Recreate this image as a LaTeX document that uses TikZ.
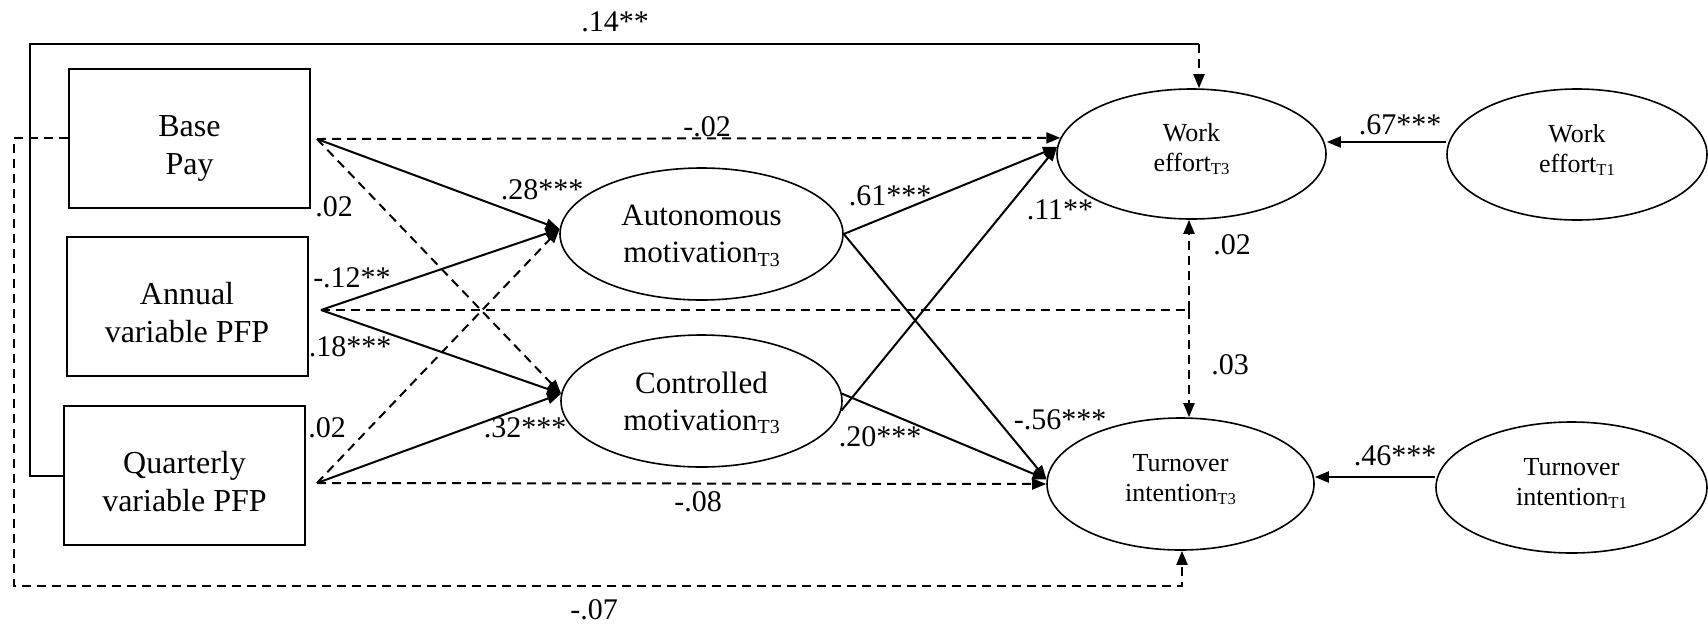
\documentclass[tikz,border=0pt]{standalone}
\usepackage{fontspec}
\usepackage{graphicx}
\setmainfont{Liberation Serif}
\usetikzlibrary{arrows.meta,shapes.geometric}
\newcommand\lsub[1]{\raisebox{-0.12em}{\scalebox{0.64}{#1}}}
\begin{document}
\begin{tikzpicture}[x=1pt,y=-1pt,
  box/.style={draw,line width=2pt,minimum width=241pt,minimum height=139pt,inner sep=0pt,align=center,text height=72pt,text depth=0pt,font=\fontsize{32}{38}\selectfont},
  latent/.style={draw,ellipse,line width=1.6pt,inner sep=0pt,align=center,text depth=0pt,font=\fontsize{31}{37}\selectfont},
  outcome/.style={draw,ellipse,line width=1.6pt,inner sep=0pt,align=center,text height=35pt,text depth=0pt,font=\fontsize{26}{30}\selectfont},
  lab/.style={inner sep=0pt,font=\fontsize{30}{30}\selectfont},
  conn/.style={line width=2pt},
  arr/.style={-{Triangle[length=14pt,width=11pt]}},
  dsh/.style={dash pattern=on 9pt off 6pt},
]
\useasboundingbox (0,0) rectangle (1708,625);

% boxes
\node[box] (BP) at (189.5,138) {Base\\Pay};
\node[box] (AB) at (187,306) {Annual\\variable PFP};
\node[box] (QB) at (184.5,475.5) {Quarterly\\variable PFP};

% ellipses
\node[latent,minimum width=283pt,minimum height=132pt] (AM) at (701.5,234) {Autonomous\\motivation\lsub{T3}};
\node[latent,minimum width=281pt,minimum height=132pt] (CM) at (701.5,401) {Controlled\\motivation\lsub{T3}};
\node[outcome,minimum width=269pt,minimum height=130pt] (WT3) at (1191.5,154) {Work\\effort\lsub{T3}};
\node[outcome,minimum width=267pt,minimum height=132pt] (TT3) at (1180.5,484) {Turnover\\intention\lsub{T3}};
\node[outcome,minimum width=260pt,minimum height=131pt] (WT1) at (1577,154.5) {Work\\effort\lsub{T1}};
\node[outcome,minimum width=271pt,minimum height=131pt] (TT1) at (1571.5,487.5) {Turnover\\intention\lsub{T1}};

% origin points
\coordinate (BO) at (317,139);
\coordinate (AO) at (321,310);
\coordinate (QO) at (317,483);
\coordinate (J) at (1189,310);
\coordinate (L1) at (30,44);
\coordinate (T1) at (1199,44);
\coordinate (L2) at (14,586);
\coordinate (B2) at (1182,586);
\coordinate (wy) at (0,142);
\coordinate (ty) at (0,477);

% Base pay
\draw[conn,dsh,arr] (BO) -- (WT3.173);
\draw[conn,arr] (BO) -- (AM.178);
\draw[conn,dsh,arr] (BO) -- (CM.177);
% Annual
\draw[conn,arr] (AO) -- (AM.178);
\draw[conn,arr] (AO) -- (CM.177);
\draw[conn,dsh] (AO) -- (J);
\draw[conn,dsh,arr] (J) -- (J |- WT3.south);
\draw[conn,dsh,arr] (J) -- (J |- TT3.north);
% Quarterly
\draw[conn,dsh,arr] (QO) -- (AM.178);
\draw[conn,arr] (QO) -- (CM.177);
\draw[conn,dsh,arr] (QO) -- (TT3.180);
% mediators
\draw[conn,arr] (AM.east) -- (WT3.177);
\draw[conn,arr] (AM.east) -- (TT3.178);
\draw[conn,arr] (CM.-4) -- (WT3.177);
\draw[conn,arr] (CM.3) -- (TT3.178);
% T1 to T3
\draw[conn,arr] (WT1.west |- wy) -- (WT3.east |- wy);
\draw[conn,arr] (TT1.west |- ty) -- (TT3.east |- ty);
% outer paths
\draw[conn] (QB.west) -| (L1) -- (T1);
\draw[conn,dsh,arr] (T1) -- (T1 |- WT3.north);
\draw[conn,dsh,arr] (BP.west) -| (L2) -- (B2) -- (B2 |- TT3.south);

% labels
\node[lab] (l14) at (615,22) {.14**};
\node[lab] (l02a) at (707,127) {-.02};
\node[lab] (l28) at (542,190) {.28***};
\node[lab] (l02b) at (334,207) {.02};
\node[lab] (l12) at (352,278) {-.12**};
\node[lab] (l18) at (350,347) {.18***};
\node[lab] (l02c) at (327,428) {.02};
\node[lab] (l32) at (525,428) {.32***};
\node[lab] (l08) at (698,502) {-.08};
\node[lab] (l07) at (594,610) {-.07};
\node[lab] (l61) at (890,196) {.61***};
\node[lab] (l11) at (1060,210) {.11**};
\node[lab] (l56) at (1060,420) {-.56***};
\node[lab] (l20) at (880,437) {.20***};
\node[lab] (l02d) at (1232,245) {.02};
\node[lab] (l03) at (1230,365) {.03};
\node[lab] (l67) at (1400,125) {.67***};
\node[lab] (l46) at (1395,456) {.46***};
\end{tikzpicture}
\end{document}
